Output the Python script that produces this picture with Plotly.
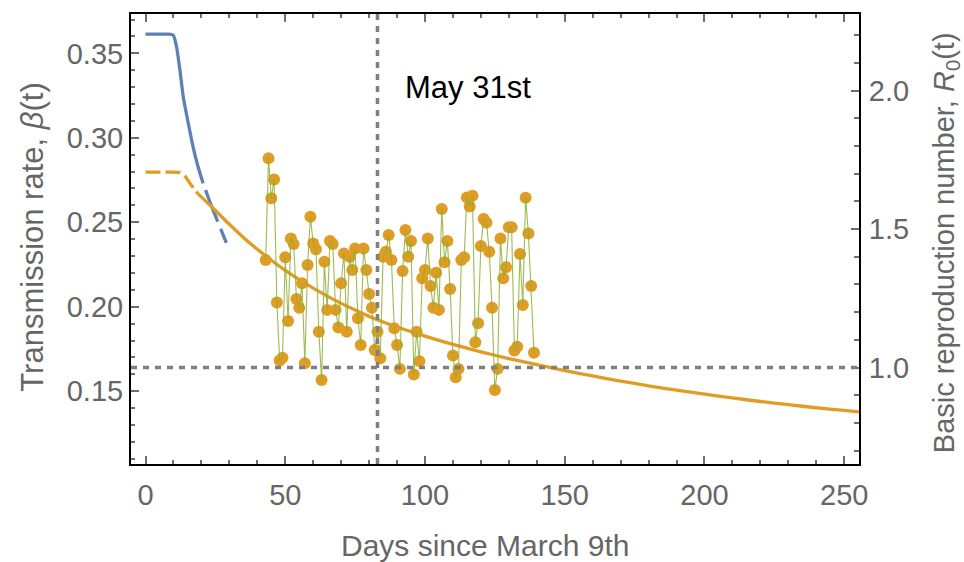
import plotly.graph_objects as go

# ---- data -----------------------------------------------------------------
# Transmission-rate fit for the early epidemic phase (blue); solid up to the
# end of the fitting window, dashed afterwards.
blue_days = [0, 4, 8, 9.9, 11.1, 12.3, 13.5, 15.3, 17.0, 18.8, 20.6, 23.6, 26.0, 29.0]
blue_beta = [0.3614, 0.3614, 0.3614, 0.3608, 0.3539, 0.3401, 0.3243, 0.3086,
             0.2947, 0.2829, 0.2731, 0.2596, 0.2498, 0.2375]
blue_fit_end = 20.6

# Transmission-rate model for the later phase (orange); dashed before the
# start of its fitting window.
orange_days = [0, 4, 8, 12, 14, 16, 18.8, 23, 30, 36, 40, 45, 50, 55, 60, 65,
               70, 75, 80, 85, 90, 100, 110, 120, 130, 140, 150, 160, 170,
               180, 190, 200, 210, 220, 230, 240, 250, 256]
orange_beta = [0.2797, 0.2797, 0.2797, 0.2795, 0.2775, 0.2728, 0.2668, 0.2602,
               0.2488, 0.2395, 0.2340, 0.2275, 0.2215, 0.2160, 0.2110, 0.2063,
               0.2020, 0.1980, 0.1943, 0.1910, 0.1880, 0.1826, 0.1777, 0.1733,
               0.1693, 0.1657, 0.1622, 0.1590, 0.1560, 0.1532, 0.1506, 0.1482,
               0.1460, 0.1439, 0.1420, 0.1402, 0.1386, 0.1377]
orange_fit_start = 18.8

# Daily estimates of the basic reproduction number
daily_first_day = 43
daily_r0 = [1.388, 1.755, 1.611, 1.679, 1.235, 1.025, 1.035, 1.398, 1.168, 1.466,
            1.446, 1.247, 1.216, 1.304, 1.015, 1.370, 1.544, 1.448, 1.427, 1.129,
            0.955, 1.382, 1.208, 1.457, 1.446, 1.208, 1.144, 1.304, 1.412, 1.129,
            1.400, 1.352, 1.430, 1.178, 1.081, 1.430, 1.352, 1.265, 1.216, 1.063,
            1.129, 1.033, 1.400, 1.418, 1.478, 1.388, 1.142, 1.081, 0.995, 1.348,
            1.496, 1.400, 1.457, 0.975, 1.129, 1.023, 1.322, 1.352, 1.466, 1.294,
            1.216, 1.342, 1.208, 1.572, 1.380, 1.457, 1.283, 1.043, 0.965, 0.995,
            1.388, 1.398, 1.614, 1.581, 1.620, 1.091, 1.160, 1.439, 1.536, 1.523,
            1.418, 1.216, 0.919, 0.995, 1.466, 1.322, 1.362, 1.506, 1.506, 1.061,
            1.075, 1.410, 1.226, 1.613, 1.484, 1.294, 1.053]
daily_days = list(range(daily_first_day, daily_first_day + len(daily_r0)))

may31_day = 83          # days from March 9th to May 31st
r0_threshold = 1.0

x_ticks = [0, 50, 100, 150, 200, 250]
beta_ticks = [0.15, 0.20, 0.25, 0.30, 0.35]
r0_ticks = [1.0, 1.5, 2.0]

# ---- style ------------------------------------------------------------------
BLUE = "#5E81B5"
ORANGE = "#E19C24"
GREEN = "#8FB032"
GREY = "#7f7f7f"
TXT = "#666666"
FONT = "Liberation Sans, Arial, sans-serif"

x_range = [-5.2, 255.3]
beta_range = [0.1069, 0.3733]
r0_range = [0.6516, 2.2762]


def split(days, vals, at):
    a = [(d, v) for d, v in zip(days, vals) if d <= at]
    b = [(d, v) for d, v in zip(days, vals) if d >= at]
    return list(zip(*a)), list(zip(*b))


fig = go.Figure()

(bs_x, bs_y), (bd_x, bd_y) = split(blue_days, blue_beta, blue_fit_end)
(od_x, od_y), (os_x, os_y) = split(orange_days, orange_beta, orange_fit_start)

line_kw = dict(mode="lines", hoverinfo="skip", showlegend=False)
fig.add_trace(go.Scatter(x=bs_x, y=bs_y, line=dict(color=BLUE, width=3.3, shape="spline", smoothing=0.6), **line_kw))
fig.add_trace(go.Scatter(x=bd_x, y=bd_y, line=dict(color=BLUE, width=3.3, dash="0px,7px,34px,8px,15px,40px", shape="spline", smoothing=0.6), **line_kw))
fig.add_trace(go.Scatter(x=od_x, y=od_y, line=dict(color=ORANGE, width=3.3, dash="15px,5px", shape="spline", smoothing=0.6), **line_kw))
fig.add_trace(go.Scatter(x=os_x, y=os_y, line=dict(color=ORANGE, width=3.3, shape="spline", smoothing=0.6), **line_kw))

# daily R0 estimates: markers, then the connecting line drawn over them
fig.add_trace(go.Scatter(x=daily_days, y=daily_r0, yaxis="y2", mode="markers",
                         marker=dict(color=ORANGE, size=12, line=dict(width=0)),
                         showlegend=False))
fig.add_trace(go.Scatter(x=daily_days, y=daily_r0, yaxis="y2", mode="lines",
                         line=dict(color=GREEN, width=1.1), opacity=0.85,
                         showlegend=False))

# reference lines: May 31st and R0 = 1
fig.add_shape(type="line", xref="x", yref="paper", x0=may31_day, x1=may31_day, y0=0, y1=1,
              line=dict(color=GREY, width=3.5, dash="6px,6px"), layer="above")
fig.add_shape(type="line", xref="paper", yref="y2", x0=0, x1=1, y0=r0_threshold, y1=r0_threshold,
              line=dict(color=GREY, width=3.5, dash="6px,6px"), layer="above")

fig.add_annotation(x=115.4, y=0.3295, xref="x", yref="y", text="May 31st", showarrow=False,
                   xanchor="center", yanchor="middle",
                   font=dict(family=FONT, size=31, color="black"))

# axis titles
fig.add_annotation(xref="paper", yref="paper", x=-0.1346, y=0.503, textangle=-90,
                   xanchor="center", yanchor="middle",
                   text="Transmission rate, <i>β</i>(t)", showarrow=False,
                   font=dict(family=FONT, size=31, color=TXT))
fig.add_annotation(xref="paper", yref="paper", x=1.1195, y=0.493, textangle=-90,
                   xanchor="center", yanchor="middle",
                   text="Basic reproduction number, <i>R</i><sub>0</sub>(t)", showarrow=False,
                   font=dict(family=FONT, size=29, color=TXT))
fig.add_annotation(xref="paper", yref="paper", x=0.486, y=-0.18,
                   xanchor="center", yanchor="middle",
                   text="Days since March 9th", showarrow=False,
                   font=dict(family=FONT, size=30, color=TXT))

axis_common = dict(showgrid=False, zeroline=False, showline=True, linecolor="black", linewidth=2,
                   ticks="inside", tickcolor="#6f6f6f", tickwidth=1.5,
                   tickfont=dict(family=FONT, size=29, color=TXT))

fig.update_layout(
    width=964, height=562,
    margin=dict(l=131, r=105, t=14, b=98),
    paper_bgcolor="white", plot_bgcolor="white",
    xaxis=dict(range=x_range, tickvals=x_ticks, ticklen=8, mirror="ticks",
               minor=dict(dtick=10, ticklen=4, ticks="inside", tickcolor="#6f6f6f", tickwidth=1.5),
               ticklabelstandoff=4, **axis_common),
    yaxis=dict(range=beta_range, tickvals=beta_ticks, tickformat=".2f", ticklen=8,
               minor=dict(dtick=0.01, ticklen=4, ticks="inside", tickcolor="#6f6f6f", tickwidth=1.5),
               ticklabelstandoff=0, **axis_common),
    yaxis2=dict(range=r0_range, tickvals=r0_ticks, tickformat=".1f", ticklen=8,
                overlaying="y", side="right",
                minor=dict(dtick=0.1, ticklen=5, ticks="inside", tickcolor="#6f6f6f", tickwidth=1.5),
                ticklabelstandoff=2, **axis_common),
)

fig.write_html("out.html")
